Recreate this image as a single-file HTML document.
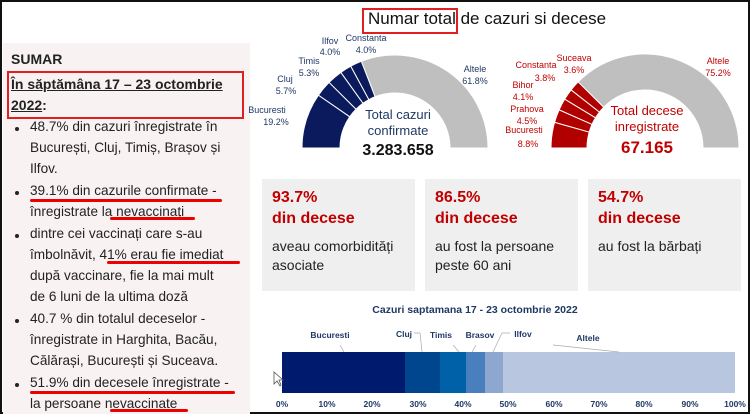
<!DOCTYPE html>
<html><head><meta charset="utf-8"><style>
body{margin:0;width:750px;height:414px;overflow:hidden;background:#fff;font-family:"Liberation Sans",sans-serif;}
#f{position:absolute;left:0;top:0;width:746px;height:410px;border:2px solid #111;}
#lp{position:absolute;left:3px;top:43px;width:247px;height:371px;background:#f9f2f2;}
.t{position:absolute;white-space:nowrap;}
.l{position:absolute;left:30px;font-size:13.6px;color:#222;white-space:nowrap;}
.b{position:absolute;left:15px;width:4px;height:4px;border-radius:50%;background:#222;}
.u{position:absolute;height:3px;background:#e00;border-radius:2px;}
.box{position:absolute;top:179px;width:153px;height:112px;background:#efefef;}
.box .p{position:absolute;left:10px;top:8px;color:#c00000;font-weight:bold;font-size:16px;line-height:21px;}
.box .d{position:absolute;left:10px;top:58px;color:#222;font-size:14px;line-height:19px;}
</style></head><body>
<div id="f"></div>
<div id="lp"></div>
<div class="t" style="left:11px;top:51px;font-weight:bold;font-size:14px;color:#222;">SUMAR</div>
<div style="position:absolute;left:7px;top:71px;width:233px;height:44px;border:2px solid #e02020;"></div>
<div class="t" style="left:11px;top:74px;font-weight:bold;font-size:14px;line-height:21px;color:#222;"><u>În săptămâna 17 – 23 octombrie</u><br><u>2022</u>:</div>
<div class="l" style="top:119px">48.7% din cazuri înregistrate în</div>
<div class="l" style="top:140px">București, Cluj, Timiș, Brașov și</div>
<div class="l" style="top:161px">Ilfov.</div>
<div class="l" style="top:183px">39.1% din cazurile confirmate -</div>
<div class="l" style="top:204px">înregistrate la nevaccinați</div>
<div class="l" style="top:226px">dintre cei vaccinați care s-au</div>
<div class="l" style="top:247px">îmbolnăvit, 41% erau fie imediat</div>
<div class="l" style="top:268px">după vaccinare, fie la mai mult</div>
<div class="l" style="top:289px">de 6 luni de la ultima doză</div>
<div class="l" style="top:311px">40.7 % din totalul deceselor -</div>
<div class="l" style="top:332px">înregistrate in Harghita, Bacău,</div>
<div class="l" style="top:353px">Călărași, București și Suceava.</div>
<div class="l" style="top:375px">51.9% din decesele înregistrate -</div>
<div class="l" style="top:396px">la persoane nevaccinate</div>
<div class="b" style="top:127px"></div><div class="b" style="top:191px"></div><div class="b" style="top:234px"></div><div class="b" style="top:319px"></div><div class="b" style="top:383px"></div>
<div class="u" style="left:30px;top:199px;width:192px"></div>
<div class="u" style="left:110px;top:217px;width:85px"></div>
<div class="u" style="left:107px;top:261px;width:133px"></div>
<div class="u" style="left:30px;top:391px;width:205px"></div>
<div class="u" style="left:110px;top:409px;width:78px"></div>

<div class="t" style="left:368px;top:9px;font-size:17px;color:#111;">Numar total de cazuri si decese</div>
<div style="position:absolute;left:362px;top:8px;width:92px;height:22px;border:2px solid #e02020;"></div>

<svg id="g" width="750" height="414" style="position:absolute;left:0;top:0;">
<g font-family="Liberation Sans,sans-serif" font-size="9" fill="#1f3864" text-anchor="middle">
<text x="267" y="113">Bucuresti</text><text x="276" y="125">19.2%</text>
<text x="285" y="82">Cluj</text><text x="286" y="94">5.7%</text>
<text x="309" y="64">Timis</text><text x="309" y="76">5.3%</text>
<text x="330" y="44">Ilfov</text><text x="330" y="55">4.0%</text>
<text x="366" y="41">Constanta</text><text x="366" y="53">4.0%</text>
<text x="475" y="72">Altele</text><text x="475" y="84">61.8%</text>
</g>
<g font-family="Liberation Sans,sans-serif" font-size="9" fill="#c00000" text-anchor="middle">
<text x="524" y="133">Bucuresti</text><text x="528" y="147">8.8%</text>
<text x="527" y="112">Prahova</text><text x="527" y="124">4.5%</text>
<text x="523" y="88">Bihor</text><text x="523" y="100">4.1%</text>
<text x="536" y="68">Constanta</text><text x="545" y="81">3.8%</text>
<text x="574" y="61">Suceava</text><text x="574" y="73">3.6%</text>
<text x="718" y="64">Altele</text><text x="718" y="76">75.2%</text>
</g>
<text x="398" y="119" font-family="Liberation Sans,sans-serif" font-size="13" fill="#1f3864" text-anchor="middle">Total cazuri</text>
<text x="398" y="135" font-family="Liberation Sans,sans-serif" font-size="13" fill="#1f3864" text-anchor="middle">confirmate</text>
<text x="398" y="155" font-family="Liberation Sans,sans-serif" font-size="16" font-weight="bold" fill="#111" text-anchor="middle">3.283.658</text>
<text x="647" y="115" font-family="Liberation Sans,sans-serif" font-size="13" fill="#c00000" text-anchor="middle">Total decese</text>
<text x="647" y="131" font-family="Liberation Sans,sans-serif" font-size="13" fill="#c00000" text-anchor="middle">inregistrate</text>
<text x="647" y="153" font-family="Liberation Sans,sans-serif" font-size="17" font-weight="bold" fill="#c00000" text-anchor="middle">67.165</text>

<text x="475" y="313" font-family="Liberation Sans,sans-serif" font-size="10.5" font-weight="bold" fill="#1f3864" text-anchor="middle">Cazuri saptamana 17 - 23 octombrie 2022</text>
<rect x="282" y="352" width="123" height="41" fill="#001a6e"/>
<rect x="405" y="352" width="35" height="41" fill="#00468f"/>
<rect x="440" y="352" width="26" height="41" fill="#0060a8"/>
<rect x="466" y="352" width="19" height="41" fill="#4a7fbf"/>
<rect x="485" y="352" width="18" height="41" fill="#8ea7d0"/>
<rect x="503" y="352" width="232" height="41" fill="#b8c6df"/>
<g stroke="#aaa" stroke-width="0.7" fill="none">
<path d="M340 345 L344 352"/><path d="M414 333 L420 333 L422 352"/><path d="M453 345 L459 352"/><path d="M476 345 L472 352"/><path d="M510 333 L502 333 L493 352"/><path d="M553 345 L619 352"/>
</g>
<g font-family="Liberation Sans,sans-serif" font-size="8.5" font-weight="bold" fill="#1f3864" text-anchor="middle">
<text x="330" y="338">Bucuresti</text><text x="404" y="337">Cluj</text><text x="441" y="338">Timis</text><text x="480" y="338">Brasov</text><text x="523" y="337">Ilfov</text><text x="588" y="341">Altele</text>
<text x="282" y="407">0%</text><text x="327" y="407">10%</text><text x="372" y="407">20%</text><text x="418" y="407">30%</text><text x="463" y="407">40%</text><text x="508" y="407">50%</text><text x="554" y="407">60%</text><text x="599" y="407">70%</text><text x="644" y="407">80%</text><text x="690" y="407">90%</text><text x="735" y="407">100%</text>
</g>
<path d="M274 372 L274 384 L277 381 L280 386 L281 385 L279 380 L283 380 Z" fill="#fff" stroke="#555" stroke-width="0.8"/>
</svg>

<div class="box" style="left:262px"><div class="p">93.7%<br>din decese</div><div class="d">aveau comorbidități<br>asociate</div></div>
<div class="box" style="left:425px"><div class="p">86.5%<br>din decese</div><div class="d">au fost la persoane<br>peste 60 ani</div></div>
<div class="box" style="left:588px"><div class="p">54.7%<br>din decese</div><div class="d">au fost la bărbați</div></div>

<script>
var svg=document.getElementById('g');
function gauge(cx,cy,R,r,vals,cols){
  var a0=Math.PI, NS='http://www.w3.org/2000/svg';
  vals.forEach(function(v,i){
    var a1=a0-Math.PI*v/100;
    var p=function(rr,a){return (cx+rr*Math.cos(a)).toFixed(2)+' '+(cy-rr*Math.sin(a)).toFixed(2);};
    var d='M'+p(R,a0)+' A'+R+' '+R+' 0 0 1 '+p(R,a1)+' L'+p(r,a1)+' A'+r+' '+r+' 0 0 0 '+p(r,a0)+' Z';
    var e=document.createElementNS(NS,'path');
    e.setAttribute('d',d);e.setAttribute('fill',cols[i]);e.setAttribute('stroke','#fff');e.setAttribute('stroke-width','1');
    svg.insertBefore(e,svg.firstChild);
    a0=a1;
  });
}
gauge(395,148,93,55,[19.2,5.7,5.3,4,4,61.8],['#0a1a5c','#0a1a5c','#0a1a5c','#0a1a5c','#0a1a5c','#bfbfbf']);
gauge(645,148,94,58,[8.8,4.5,4.1,3.8,3.6,75.2],['#b00000','#b00000','#b00000','#b00000','#b00000','#bfbfbf']);
</script>
</body></html>
